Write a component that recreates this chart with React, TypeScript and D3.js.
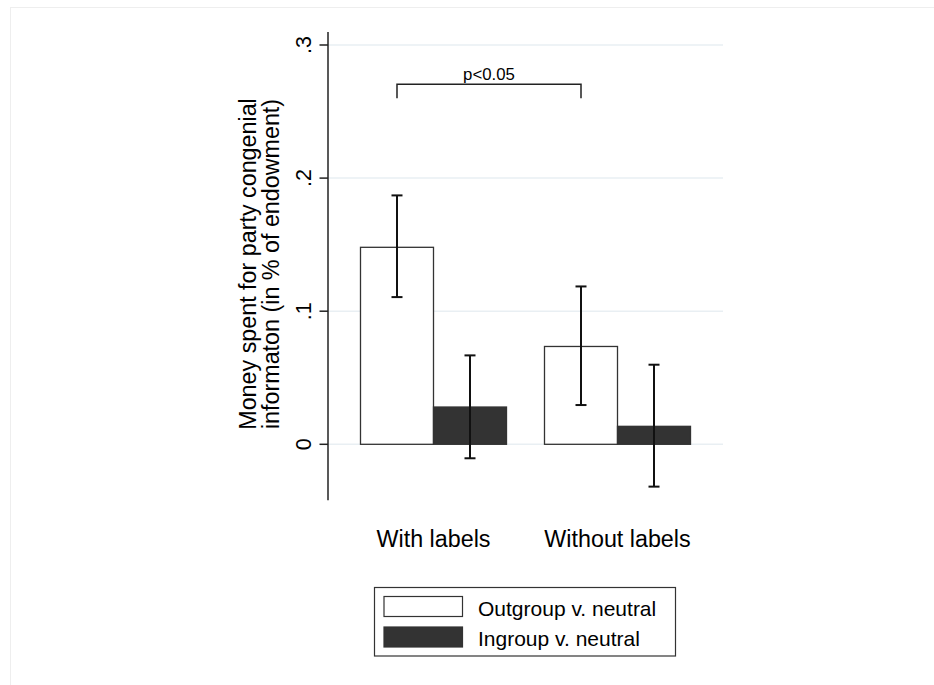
import React from "react";
import * as d3 from "d3";

const categories = ["With labels", "Without labels"];
const seriesNames = ["Outgroup v. neutral", "Ingroup v. neutral"];
const seriesKeys = ["out", "in"];
const outgroupMeans = [0.148, 0.0735];
const ingroupMeans = [0.028, 0.0135];
const outgroupLow = [0.1106, 0.0295];
const outgroupHigh = [0.187, 0.1186];
const ingroupLow = [-0.0105, -0.0318];
const ingroupHigh = [0.0668, 0.0598];
const yTicks = [0, 0.1, 0.2, 0.3];
const yTickLabels = ["0", ".1", ".2", ".3"];
const bracketValue = 0.2705;
const bracketLegValue = 0.26;
const bracketLabel = "p<0.05";

const W = 934;
const H = 685;
const FONT = "'Liberation Sans', Arial, Helvetica, sans-serif";

export default function App() {
  const y = d3.scaleLinear().domain([0, 0.3]).range([444.3, 45]);
  const x0 = d3
    .scaleBand<string>()
    .domain(categories)
    .range([328, 723])
    .paddingInner(0.2065)
    .paddingOuter(0.1766);
  const x1 = d3
    .scaleBand<string>()
    .domain(seriesKeys)
    .range([0, x0.bandwidth()])
    .padding(0);

  const data = categories.map((c, i) => ({
    cat: c,
    vals: [
      { key: "out", mean: outgroupMeans[i], lo: outgroupLow[i], hi: outgroupHigh[i] },
      { key: "in", mean: ingroupMeans[i], lo: ingroupLow[i], hi: ingroupHigh[i] },
    ],
  }));
  const fills: Record<string, string> = { out: "#ffffff", in: "#333333" };

  const axisX = 328;
  const yBottom = y(-0.042);
  const yTop = 32;
  const capW = 11;

  const cx = (cat: string, key: string) => (x0(cat) as number) + (x1(key) as number) + x1.bandwidth() / 2;
  const bx1 = cx(categories[0], "out");
  const bx2 = cx(categories[1], "out");

  return (
    <svg
      width={W}
      height={H}
      style={{ position: "absolute", left: 0, top: 0, background: "#fff" }}
      fontFamily={FONT}
    >
      <rect x={10.5} y={7.5} width={W} height={H} fill="#fff" stroke="#eeeeee" strokeWidth={1} />
      {/* gridlines */}
      {yTicks.map((t) => (
        <line key={"g" + t} x1={axisX} x2={723} y1={y(t)} y2={y(t)} stroke="#e9eff3" strokeWidth={1.5} />
      ))}
      {/* bars */}
      {data.map((d) =>
        d.vals.map((v) => (
          <rect
            key={d.cat + v.key}
            x={(x0(d.cat) as number) + (x1(v.key) as number)}
            y={y(Math.max(v.mean, 0))}
            width={x1.bandwidth()}
            height={Math.abs(y(v.mean) - y(0))}
            fill={fills[v.key]}
            stroke="#333333"
            strokeWidth={1.3}
          />
        ))
      )}
      {/* error bars */}
      {data.map((d) =>
        d.vals.map((v) => {
          const c = cx(d.cat, v.key);
          return (
            <g key={"e" + d.cat + v.key} stroke="#111" strokeWidth={2}>
              <line x1={c} x2={c} y1={y(v.hi)} y2={y(v.lo)} />
              <line x1={c - capW / 2} x2={c + capW / 2} y1={y(v.hi)} y2={y(v.hi)} />
              <line x1={c - capW / 2} x2={c + capW / 2} y1={y(v.lo)} y2={y(v.lo)} />
            </g>
          );
        })
      )}
      {/* axis */}
      <line x1={axisX} x2={axisX} y1={yTop} y2={yBottom} stroke="#222" strokeWidth={1.5} />
      {yTicks.map((t, i) => (
        <g key={"t" + t}>
          <line x1={axisX - 8.5} x2={axisX} y1={y(t)} y2={y(t)} stroke="#222" strokeWidth={1.5} />
          <text
            transform={`translate(311,${y(t)}) rotate(-90)`}
            textAnchor="middle"
            fontSize={21.5}
            fill="#000"
          >
            {yTickLabels[i]}
          </text>
        </g>
      ))}
      {/* y title */}
      <g transform={`translate(0,264)`}>
        <text transform="translate(256,0) rotate(-90)" textAnchor="middle" fontSize={23.3} fill="#000">
          Money spent for party congenial
        </text>
        <text transform="translate(279,0) rotate(-90)" textAnchor="middle" fontSize={23.3} fill="#000">
          informaton (in % of endowment)
        </text>
      </g>
      {/* bracket */}
      <path
        d={`M${bx1},${y(bracketLegValue)}V${y(bracketValue)}H${bx2}V${y(bracketLegValue)}`}
        fill="none"
        stroke="#222"
        strokeWidth={1.5}
      />
      <text x={(bx1 + bx2) / 2} y={y(bracketValue) - 4} textAnchor="middle" fontSize={16.8} fill="#000">
        {bracketLabel}
      </text>
      {/* category labels */}
      {categories.map((c) => (
        <text
          key={"c" + c}
          x={(x0(c) as number) + x0.bandwidth() / 2}
          y={547}
          textAnchor="middle"
          fontSize={23.3}
          fill="#000"
        >
          {c}
        </text>
      ))}
      {/* legend */}
      <rect x={374.5} y={587.5} width={301} height={68.5} fill="#fff" stroke="#333" strokeWidth={1.2} />
      {seriesKeys.map((k, i) => (
        <g key={"l" + k} transform={`translate(0,${i * 30.5})`}>
          <rect x={384} y={596.5} width={78.5} height={20} fill={fills[k]} stroke="#333" strokeWidth={1.2} />
          <text x={478} y={615.5} fontSize={21} fill="#000">
            {seriesNames[i]}
          </text>
        </g>
      ))}
    </svg>
  );
}
